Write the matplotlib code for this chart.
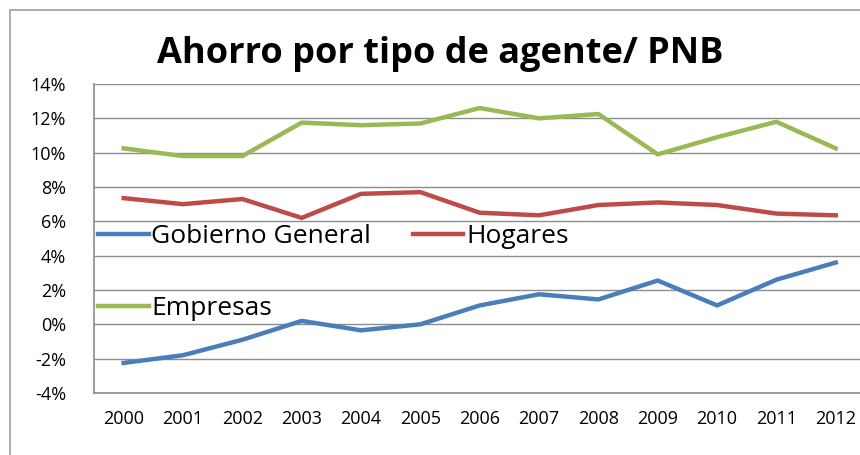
import numpy as np
import matplotlib.pyplot as plt
from matplotlib.lines import Line2D

plt.rcParams['font.family'] = ['Open Sans', 'DejaVu Sans']

years = ['2000', '2001', '2002', '2003', '2004', '2005', '2006',
         '2007', '2008', '2009', '2010', '2011', '2012']
gobierno = [-2.25, -1.8, -0.9, 0.2, -0.35, 0.0, 1.1, 1.75, 1.45, 2.55, 1.1, 2.6, 3.6]
hogares = [7.35, 7.0, 7.3, 6.2, 7.6, 7.7, 6.5, 6.35, 6.95, 7.1, 6.95, 6.45, 6.35]
empresas = [10.25, 9.8, 9.8, 11.75, 11.6, 11.7, 12.6, 12.0, 12.25, 9.9, 10.9, 11.8, 10.25]

fig = plt.figure(figsize=(8.6, 4.55), dpi=100)

# chart frame border (cropped screenshot)
fig.add_artist(Line2D([0.012, 0.012], [0, 0.978], color='#a0a0a0', lw=1.2))
fig.add_artist(Line2D([0.012, 1.0], [0.978, 0.978], color='#a0a0a0', lw=1.2))

ax = fig.add_axes([0.1093, 0.1363, 0.897, 0.6791])
x = np.arange(len(years))
l1, = ax.plot(x, gobierno, color='#4a7ebb', lw=3.2, label='Gobierno General')
l2, = ax.plot(x, hogares, color='#be4b48', lw=3.2, label='Hogares')
l3, = ax.plot(x, empresas, color='#98b954', lw=3.2, label='Empresas')

ax.set_xlim(-0.5, len(years) - 0.5)
ax.set_ylim(-4, 14)
ax.set_yticks(np.arange(-4, 15, 2))
ax.set_yticklabels([f'{v}%' for v in range(-4, 15, 2)])
ax.set_xticks(x)
ax.set_xticklabels(years)
ax.tick_params(length=0, labelsize=13, colors='black', pad=12)
ax.tick_params(axis='y', pad=20)
ax.grid(axis='y', color='#8c8c8c', lw=1)
ax.set_axisbelow(True)
for s in ['top', 'right']:
    ax.spines[s].set_visible(False)
for s in ['left', 'bottom']:
    ax.spines[s].set_color('#8c8c8c')
    ax.spines[s].set_linewidth(1.2)

ax.legend([l1, l3, l2], ['Gobierno General', 'Empresas', 'Hogares'], ncol=2,
          frameon=False, fontsize=19, handlelength=1.9, handletextpad=0.1,
          columnspacing=1.6, labelspacing=1.78, borderaxespad=0,
          loc='upper left', bbox_to_anchor=(-0.008, 0.58))

fig.text(0.512, 0.882, 'Ahorro por tipo de agente/ PNB', ha='center', va='center',
         fontsize=26, fontweight='bold')

fig.savefig('out.png', dpi=100)
